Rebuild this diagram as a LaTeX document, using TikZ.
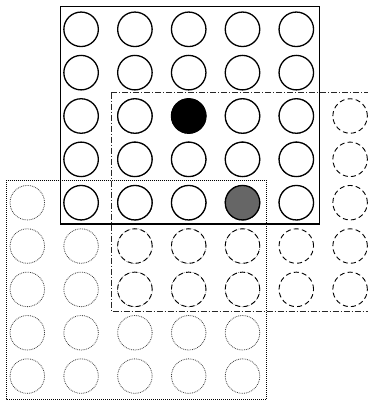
\documentclass[tikz,border=0pt]{standalone}
\usetikzlibrary{positioning}
\begin{document}
\begin{tikzpicture}[
  x=1pt, y=-1pt,
  cell/.style={circle, minimum size=34.5pt, inner sep=0pt, fill=white},
  solidcell/.style={cell, draw=black, line width=1.3pt},
  dashcell/.style={cell, draw=black, line width=0.9pt, dash pattern=on 5pt off 3.2pt},
  dotcell/.style={cell, draw=black!75, line width=0.8pt, dash pattern=on 0.8pt off 1pt},
  solidframe/.style={draw=black, line width=1.1pt},
  dashframe/.style={draw=black!85, line width=0.9pt, dash pattern=on 6pt off 2pt on 1pt off 2pt},
  dotframe/.style={draw=black, line width=1pt, dash pattern=on 1pt off 1pt}
]
\useasboundingbox (0,0) rectangle (367,403);
% lower-left window
\draw[dotframe] (6,180) rectangle (266.7,399);
\foreach \r in {4,...,8}
  \foreach \c in {0,...,4}
    \node[dotcell] (d\r\c) at ({27.3+53.8*\c},{29.3+43.35*\r}) {};
% shifted window
\draw[dashframe] (111,92.7) -- (375,92.7) (111,92.7) -- (111,311) -- (375,311);
\foreach \r in {2,...,6}
  \foreach \c in {2,...,6}
    \node[dashcell] (h\r\c) at ({27.3+53.8*\c},{29.3+43.35*\r}) {};
% main window
\draw[solidframe] (60.3,6.7) rectangle (319.3,224);
\foreach \r in {0,...,4}
  \foreach \c in {1,...,5} {
    \def\cellfill{white}
    \ifnum\r\c=23 \def\cellfill{black}\fi
    \ifnum\r\c=44 \def\cellfill{black!60}\fi
    \node[solidcell, fill=\cellfill] (s\r\c) at ({27.3+53.8*\c},{29.3+43.35*\r}) {};
  }
\end{tikzpicture}
\end{document}
